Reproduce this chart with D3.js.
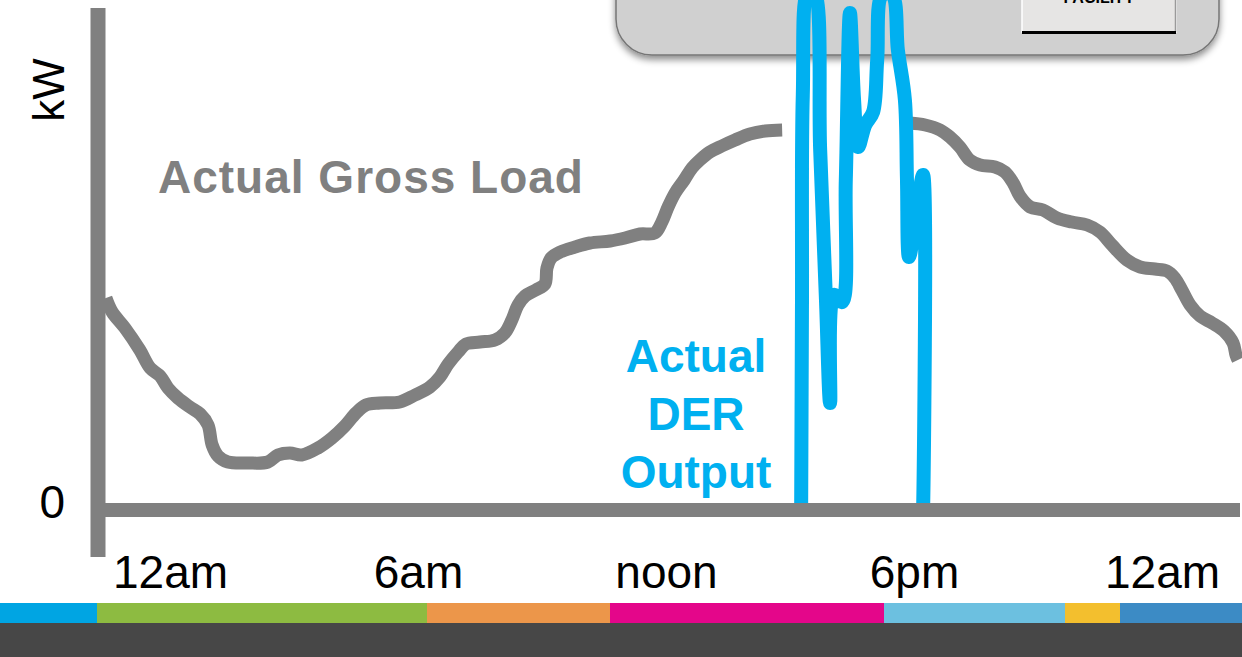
<!DOCTYPE html>
<html>
<head>
<meta charset="utf-8">
<script src="https://cdn.jsdelivr.net/npm/d3@7"></script>
<style>
  html, body { margin: 0; padding: 0; background: #ffffff; }
  svg { display: block; }
</style>
</head>
<body>
<div id="chart"></div>
<script>
// hours of the day (0 = 12am) and load in relative kW (0..100); null = hidden behind the DER trace
const loadHours = [-1.55, -1.40, -1.09, -0.73, -0.48, -0.24, -0.05, 0.19, 0.48, 0.73, 0.92, 1.02, 1.16, 1.40, 1.89, 2.37,
  2.61, 2.90, 3.19, 3.58, 3.92, 4.23, 4.50, 4.74, 5.08, 5.56, 5.93, 6.29, 6.53, 6.73, 6.97, 7.16, 7.50, 7.86, 8.10,
  8.27, 8.42, 8.59, 8.85, 9.07, 9.12, 9.22, 9.44, 9.80, 10.16, 10.65, 11.01, 11.37, 11.73, 11.90, 12.05, 12.22, 12.44,
  12.63, 12.82, 13.06, 13.35, 13.67, 14.03, 14.40, 14.81, 16.40, 17.90, 18.27, 18.63, 18.87,
  19.11, 19.35, 19.60, 19.96, 20.20, 20.40, 20.56, 20.81, 21.12, 21.46, 21.82, 22.19, 22.50, 22.79, 23.15, 23.47,
  23.83, 24.12, 24.31, 24.48, 24.68, 24.92, 25.21, 25.50, 25.72, 25.79, 25.84];
const loadValues = [42.4, 39.6, 36.4, 32, 28.4, 26.8, 24.4, 22.4, 20.6, 19.2, 17, 13, 10.8, 9.6, 9.4, 9.6,
  11, 11.4, 11, 12.4, 14.4, 16.8, 19.4, 21, 21.4, 21.6, 23, 24.6, 26.6, 29.2, 31.6, 33.2, 33.6, 34, 35.4,
  38, 41, 42.8, 44, 45.2, 48.4, 50.4, 51.6, 52.6, 53.4, 53.8, 54.4, 55.2, 55.4, 57.6, 60.6, 63.4, 66,
  68.4, 70, 71.6, 72.8, 74, 75.2, 75.8, 76, null, 77.4, 77, 76, 74.6,
  72.6, 70, 69, 68.6, 67.6, 65.4, 62.8, 60.6, 60, 58.4, 57.6, 57, 55.6, 53, 50, 48.6,
  48.2, 47.8, 46.4, 44, 41, 38.8, 37.4, 35.8, 33.4, 31, 30];

const derHours = [15.27, 15.29, 15.31, 15.44, 15.58, 15.73, 15.87, 15.97, 16.06, 16.26, 16.35, 16.45, 16.55, 16.65,
  16.82, 17.01, 17.11, 17.23, 17.47, 17.61, 17.78, 17.83, 17.88, 18.10, 18.22, 18.22];
const derValues = [0, 42, 83, 104, 104, 72, 42, 21.4, 43, 41.6, 66, 99.4, 82, 72.6,
  77, 79.6, 90, 103, 103, 92, 82, 66, 50.6, 62, 67, 0];

const tickHours = [0, 6, 12, 18, 24];
const tickLabels = ['12am', '6am', 'noon', '6pm', '12am'];

const stripeStops = [0, 97, 427, 610, 884, 1065, 1120, 1242];
const stripeColors = ['#00a5e3', '#8dbb41', '#ec964a', '#e4068a', '#6cc0e0', '#f3bf2e', '#3c8bc5'];

const width = 1242, height = 657;
const grey = '#808080', blue = '#00b0f0';
const font = 'Arial, "Liberation Sans", sans-serif';

const svg = d3.select('#chart').append('svg')
  .attr('width', width)
  .attr('height', height)
  .style('font-family', font);

const x = d3.scaleLinear().domain([0, 24]).range([170, 1162]);
const y = d3.scaleLinear().domain([0, 100]).range([510, 10]);

// drop shadow for the panel at the top
const defs = svg.append('defs');
const f = defs.append('filter').attr('id', 'shadow')
  .attr('x', '-10%').attr('y', '-10%').attr('width', '120%').attr('height', '140%');
f.append('feDropShadow').attr('dx', 0).attr('dy', 4).attr('stdDeviation', 3.5)
  .attr('flood-color', '#000').attr('flood-opacity', 0.45);

// grey panel (partially off the top)
svg.append('rect')
  .attr('x', 616).attr('y', -80)
  .attr('width', 603).attr('height', 135)
  .attr('rx', 36)
  .attr('fill', '#d0d0d0')
  .attr('stroke', '#767676')
  .attr('stroke-width', 1.5)
  .attr('filter', 'url(#shadow)');

// button
svg.append('rect')
  .attr('x', 1022).attr('y', -20)
  .attr('width', 154).attr('height', 52)
  .attr('fill', '#e6e5e4')
  .attr('stroke', '#ffffff')
  .attr('stroke-width', 1.5);
svg.append('line')
  .attr('x1', 1175.5).attr('x2', 1175.5).attr('y1', -20).attr('y2', 32)
  .attr('stroke', '#9a9a9a').attr('stroke-width', 1.5);
svg.append('line')
  .attr('x1', 1022).attr('x2', 1176).attr('y1', 32.5).attr('y2', 32.5)
  .attr('stroke', '#000000').attr('stroke-width', 3);
svg.append('text')
  .attr('x', 1099).attr('y', 3)
  .attr('text-anchor', 'middle')
  .style('font-size', '16px')
  .style('font-weight', 'bold')
  .style('fill', '#000')
  .text('FACILITY');

// gross load
const loadData = loadHours.map((h, i) => ({ h, v: loadValues[i] }));
svg.append('path')
  .datum(loadData)
  .attr('fill', 'none')
  .attr('stroke', grey)
  .attr('stroke-width', 13)
  .attr('stroke-linejoin', 'round')
  .attr('d', d3.line().defined(d => d.v !== null)
    .x(d => x(d.h)).y(d => y(d.v)).curve(d3.curveCatmullRom.alpha(0.5)));

// DER output
const derData = derHours.map((h, i) => ({ h, v: derValues[i] }));
svg.append('path')
  .datum(derData)
  .attr('fill', 'none')
  .attr('stroke', blue)
  .attr('stroke-width', 14)
  .attr('stroke-linejoin', 'round')
  .attr('stroke-linecap', 'round')
  .attr('d', d3.line().x(d => x(d.h)).y(d => y(d.v)).curve(d3.curveCatmullRom.alpha(0.5)));

// axes lines
svg.append('line')
  .attr('x1', 98).attr('x2', 98).attr('y1', 8).attr('y2', 557)
  .attr('stroke', grey).attr('stroke-width', 15);
svg.append('line')
  .attr('x1', 98).attr('x2', 1240).attr('y1', y(0)).attr('y2', y(0))
  .attr('stroke', grey).attr('stroke-width', 14);

// x tick labels
svg.append('g')
  .attr('transform', 'translate(0,588)')
  .call(d3.axisBottom(x).tickValues(tickHours).tickSize(0).tickPadding(0)
    .tickFormat((d, i) => tickLabels[i]))
  .call(g => g.select('.domain').remove())
  .call(g => g.selectAll('text')
    .attr('y', 0).attr('dy', 0)
    .attr('font-family', font)
    .attr('font-size', 46)
    .attr('fill', '#000'));

// y tick label
svg.append('g')
  .attr('transform', 'translate(65,0)')
  .call(d3.axisLeft(y).tickValues([0]).tickSize(0).tickPadding(0))
  .call(g => g.select('.domain').remove())
  .call(g => g.selectAll('text')
    .attr('dy', '0.17em')
    .attr('font-family', font)
    .attr('font-size', 46)
    .attr('fill', '#000'));

svg.append('text')
  .attr('transform', 'translate(64,90) rotate(-90)')
  .attr('text-anchor', 'middle')
  .style('font-size', '44px')
  .style('fill', '#000')
  .text('kW');

// series labels
svg.append('text')
  .attr('x', 158).attr('y', 193)
  .style('font-size', '46px')
  .style('font-weight', 'bold')
  .style('letter-spacing', '1px')
  .style('fill', grey)
  .text('Actual Gross Load');

const derLabel = svg.append('text')
  .attr('text-anchor', 'middle')
  .style('font-size', '46px')
  .style('font-weight', 'bold')
  .style('fill', blue);
['Actual', 'DER', 'Output'].forEach((t, i) => {
  derLabel.append('tspan').attr('x', 696).attr('y', 372 + i * 58).text(t);
});

// footer stripe and bar
svg.append('g').selectAll('rect')
  .data(stripeColors)
  .join('rect')
  .attr('x', (d, i) => stripeStops[i])
  .attr('y', 603)
  .attr('width', (d, i) => stripeStops[i + 1] - stripeStops[i])
  .attr('height', 20)
  .attr('fill', d => d);

svg.append('rect')
  .attr('x', 0).attr('y', 623)
  .attr('width', width).attr('height', height - 623)
  .attr('fill', '#474747');
</script>
</body>
</html>
